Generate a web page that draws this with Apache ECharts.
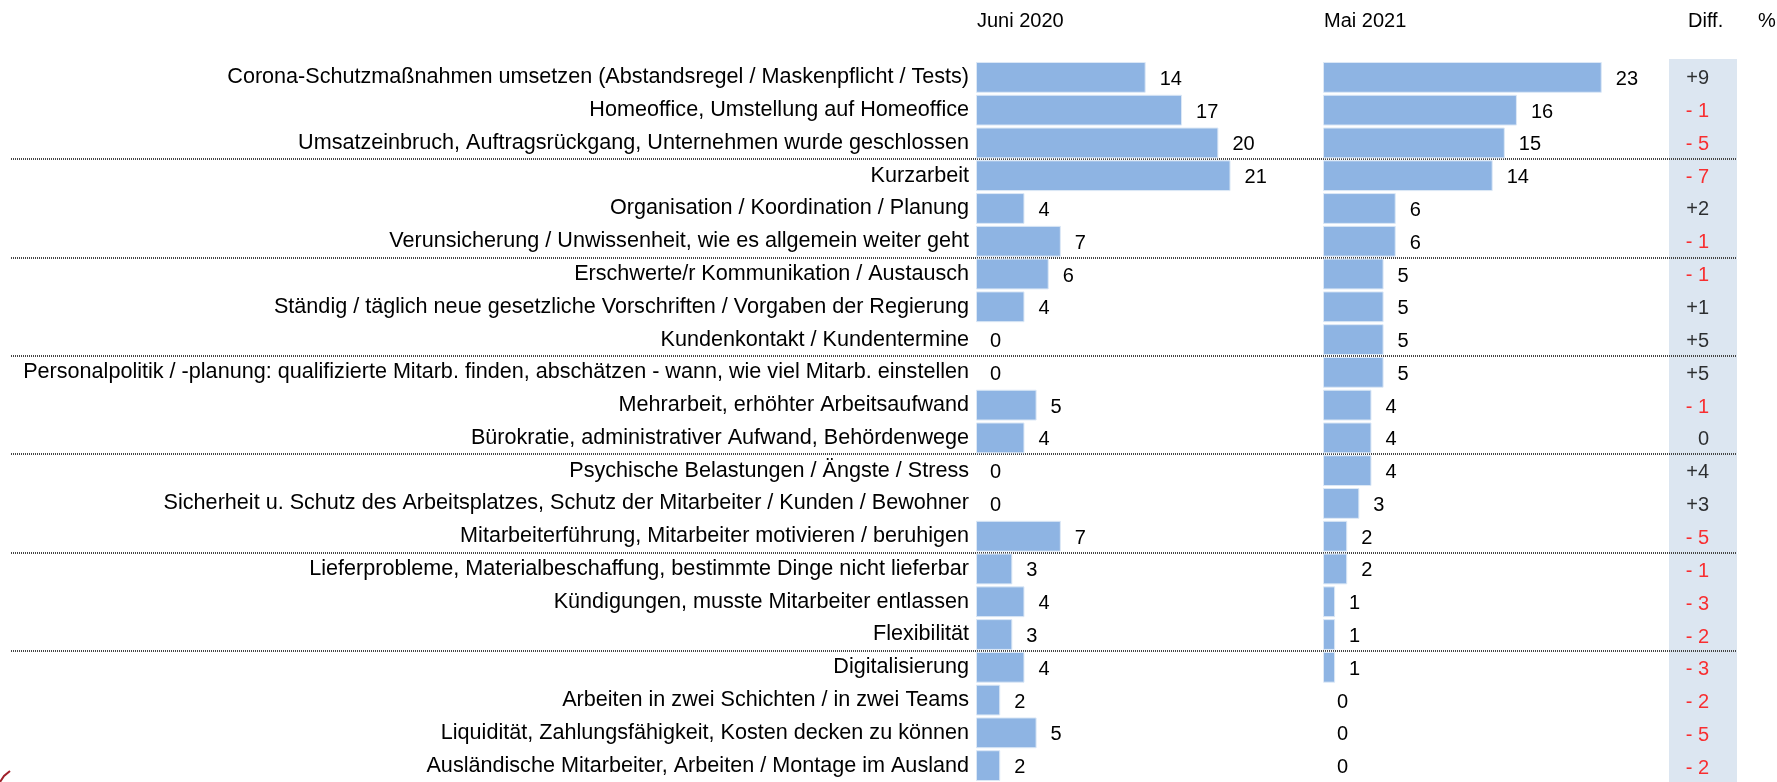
<!DOCTYPE html>
<html lang="de">
<head>
    <meta charset="UTF-8">
    <title>Herausforderungen Juni 2020 / Mai 2021</title>
    <script src="https://cdn.jsdelivr.net/npm/echarts@6/dist/echarts.min.js"></script>
    <style>
        html, body { margin: 0; padding: 0; background: #fff; }
        #chart { width: 1777px; height: 782px; }
    </style>
</head>
<body>
<div id="chart"></div>
<script type="text/javascript">
    // Daten
    var categories = [
        'Corona-Schutzmaßnahmen umsetzen (Abstandsregel / Maskenpflicht / Tests)',
        'Homeoffice, Umstellung auf Homeoffice',
        'Umsatzeinbruch, Auftragsrückgang, Unternehmen wurde geschlossen',
        'Kurzarbeit',
        'Organisation / Koordination / Planung',
        'Verunsicherung / Unwissenheit, wie es allgemein weiter geht',
        'Erschwerte/r Kommunikation / Austausch',
        'Ständig / täglich neue gesetzliche Vorschriften / Vorgaben der Regierung',
        'Kundenkontakt / Kundentermine',
        'Personalpolitik / -planung: qualifizierte Mitarb. finden, abschätzen - wann, wie viel Mitarb. einstellen',
        'Mehrarbeit, erhöhter Arbeitsaufwand',
        'Bürokratie, administrativer Aufwand, Behördenwege',
        'Psychische Belastungen / Ängste / Stress',
        'Sicherheit u. Schutz des Arbeitsplatzes, Schutz der Mitarbeiter / Kunden / Bewohner',
        'Mitarbeiterführung, Mitarbeiter motivieren / beruhigen',
        'Lieferprobleme, Materialbeschaffung, bestimmte Dinge nicht lieferbar',
        'Kündigungen, musste Mitarbeiter entlassen',
        'Flexibilität',
        'Digitalisierung',
        'Arbeiten in zwei Schichten / in zwei Teams',
        'Liquidität, Zahlungsfähigkeit, Kosten decken zu können',
        'Ausländische Mitarbeiter, Arbeiten / Montage im Ausland'
    ];
    var juni2020 = [14, 17, 20, 21, 4, 7, 6, 4, 0, 0, 5, 4, 0, 0, 7, 3, 4, 3, 4, 2, 5, 2];
    var mai2021 = [23, 16, 15, 14, 6, 6, 5, 5, 5, 5, 4, 4, 4, 3, 2, 2, 1, 1, 1, 0, 0, 0];
    var diffWerte = [9, -1, -5, -7, 2, -1, -1, 1, 5, 5, -1, 0, 4, 3, -5, -1, -3, -2, -3, -2, -5, -2];
    // Trennlinie jeweils oberhalb dieser Zeilen
    var trennZeilen = [3, 6, 9, 12, 15, 18];
    var headers = ['Juni 2020', 'Mai 2021', 'Diff.', '%'];

    var FONT = '"Liberation Sans", Arial, sans-serif';
    var barColor = '#8eb4e3';

    var chart = echarts.init(document.getElementById('chart'));

    function catAxis(gridIndex, showLabels) {
        return {
            type: 'category',
            gridIndex: gridIndex,
            data: categories,
            inverse: true,
            axisLine: { show: false },
            axisTick: { show: false },
            splitLine: { show: false },
            axisLabel: {
                show: showLabels,
                margin: 7,
                color: '#000',
                fontSize: 21.6,
                fontFamily: FONT,
                padding: [3, 0, 0, 0]
            }
        };
    }

    function valAxis(gridIndex, max) {
        return {
            type: 'value',
            gridIndex: gridIndex,
            min: 0,
            max: max,
            show: false
        };
    }

    var barLabel = {
        show: true,
        position: 'right',
        distance: 14,
        offset: [0, 2],
        color: '#000',
        fontSize: 20,
        fontFamily: FONT
    };

    function barItems(values) {
        return values.map(function (v) {
            // keine Umrandung bei 0, sonst bleibt ein Strich stehen
            return v === 0 ? { value: v, itemStyle: { borderWidth: 0 } } : v;
        });
    }

    var option = {
        backgroundColor: '#fff',
        animation: false,
        title: [
            { text: headers[0], left: 977, top: 11 },
            { text: headers[1], left: 1324, top: 11 },
            { text: headers[2], left: 1688, top: 11 },
            { text: headers[3], left: 1758, top: 11 }
        ].map(function (t) {
            t.padding = 0;
            t.textStyle = { color: '#000', fontSize: 20, fontWeight: 'normal', fontFamily: FONT };
            return t;
        }),
        grid: [
            { left: 976, top: 61, width: 303, height: 721 },
            { left: 1323, top: 61, width: 303, height: 721 },
            { left: 1669, top: 59, width: 68, height: 723, show: true, backgroundColor: '#dce6f1', borderWidth: 0 },
            { left: 11, top: 61, width: 1726, height: 721 }
        ],
        xAxis: [valAxis(0, 25), valAxis(1, 25), valAxis(2, 1), valAxis(3, 1)],
        yAxis: [catAxis(0, true), catAxis(1, false), catAxis(2, false), catAxis(3, false)],
        series: [
            {
                name: 'Trennlinien',
                type: 'custom',
                xAxisIndex: 3,
                yAxisIndex: 3,
                z: 1,
                silent: true,
                data: trennZeilen.map(function (r) { return [0, r]; }),
                renderItem: function (params, api) {
                    var pt = api.coord([0, api.value(1)]);
                    var band = api.size([0, 1])[1];
                    var y = Math.round(pt[1] - band / 2);
                    var cs = params.coordSys;
                    return {
                        type: 'line',
                        shape: { x1: cs.x, y1: y, x2: cs.x + cs.width, y2: y },
                        style: { stroke: '#454545', lineWidth: 2, lineDash: [1, 1] }
                    };
                }
            },
            {
                name: 'Juni 2020',
                type: 'bar',
                xAxisIndex: 0,
                yAxisIndex: 0,
                barCategoryGap: '6%',
                data: barItems(juni2020),
                itemStyle: { color: barColor, borderColor: '#dce8f6', borderWidth: 1 },
                label: barLabel
            },
            {
                name: 'Mai 2021',
                type: 'bar',
                xAxisIndex: 1,
                yAxisIndex: 1,
                barCategoryGap: '6%',
                data: barItems(mai2021),
                itemStyle: { color: barColor, borderColor: '#dce8f6', borderWidth: 1 },
                label: barLabel
            },
            {
                name: 'Diff.',
                type: 'scatter',
                xAxisIndex: 2,
                yAxisIndex: 2,
                symbolSize: 0,
                z: 3,
                data: diffWerte.map(function (d, i) { return [0, i, d]; }),
                label: {
                    show: true,
                    position: 'right',
                    distance: 0,
                    align: 'right',
                    offset: [40, 3],
                    fontSize: 20,
                    fontFamily: FONT,
                    formatter: function (p) {
                        var d = p.value[2];
                        if (d > 0) return '{pos|+' + d + '}';
                        if (d < 0) return '{neg|- ' + (-d) + '}';
                        return '{pos|0}';
                    },
                    rich: {
                        pos: { color: '#000', fontSize: 20, fontFamily: FONT },
                        neg: { color: '#ff0000', fontSize: 20, fontFamily: FONT }
                    }
                }
            }
        ],
        graphic: [
            {
                type: 'polyline',
                shape: { points: [[0, 782], [4, 776], [10, 771]] },
                style: { stroke: '#a0202a', lineWidth: 2, fill: null }
            }
        ]
    };

    chart.setOption(option);
    window.onresize = function () {
        chart.resize();
    };
</script>
</body>
</html>
